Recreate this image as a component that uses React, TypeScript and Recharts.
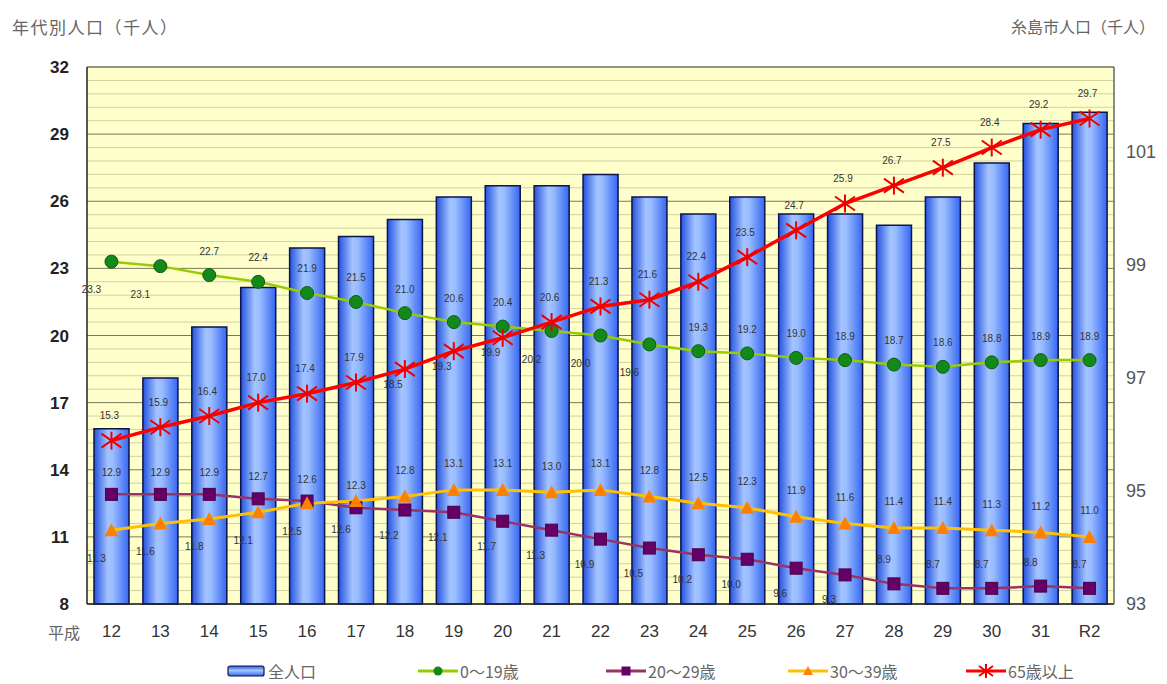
import React from "react";
import {
  ComposedChart, Bar, Line, XAxis, YAxis, CartesianGrid,
  ReferenceLine, LabelList
} from "recharts";

// 平成12年〜令和2年
const years = ["12", "13", "14", "15", "16", "17", "18", "19", "20", "21", "22",
  "23", "24", "25", "26", "27", "28", "29", "30", "31", "R2"];
// 糸島市人口 (千人, right axis)
const totalPop = [96.1, 97.0, 97.9, 98.6, 99.3, 99.5, 99.8, 100.2, 100.4, 100.4, 100.6,
  100.2, 99.9, 100.2, 99.9, 99.9, 99.7, 100.2, 100.8, 101.5, 101.7];
// 年代別人口 (千人, left axis)
const age0to19 = [23.3, 23.1, 22.7, 22.4, 21.9, 21.5, 21.0, 20.6, 20.4, 20.2, 20.0,
  19.6, 19.3, 19.2, 19.0, 18.9, 18.7, 18.6, 18.8, 18.9, 18.9];
const age20to29 = [12.9, 12.9, 12.9, 12.7, 12.6, 12.3, 12.2, 12.1, 11.7, 11.3, 10.9,
  10.5, 10.2, 10.0, 9.6, 9.3, 8.9, 8.7, 8.7, 8.8, 8.7];
const age30to39 = [11.3, 11.6, 11.8, 12.1, 12.5, 12.6, 12.8, 13.1, 13.1, 13.0, 13.1,
  12.8, 12.5, 12.3, 11.9, 11.6, 11.4, 11.4, 11.3, 11.2, 11.0];
const age65plus = [15.3, 15.9, 16.4, 17.0, 17.4, 17.9, 18.5, 19.3, 19.9, 20.6, 21.3,
  21.6, 22.4, 23.5, 24.7, 25.9, 26.7, 27.5, 28.4, 29.2, 29.7];

const leftTicks = [8, 11, 14, 17, 20, 23, 26, 29, 32];
const rightTicks = [93, 95, 97, 99, 101];
// minor gridlines: 5 per major step
const minorTicks = Array.from({ length: 41 }, (_, i) => 8 + i * 0.6).filter((_, i) => i % 5 !== 0);

const data = years.map((year, i) => ({
  year,
  total: totalPop[i],
  a0: age0to19[i],
  a20: age20to29[i],
  a30: age30to39[i],
  a65: age65plus[i],
}));

const LABEL_FONT = "'Liberation Sans Narrow', 'Liberation Sans', Arial, sans-serif";
const JP_FONT = "'Noto Sans CJK JP', sans-serif";

type Place = (i: number) => [number, number];

const makeLabel = (place: Place) => (props: any) => {
  const { x, y, value, index } = props;
  const [dx, dy] = place(index);
  return (
    <text
      key={index}
      x={x + dx}
      y={y + dy}
      textAnchor="middle"
      dominantBaseline="central"
      fontSize={10}
      fill="#333"
      fontFamily={LABEL_FONT}
    >
      {Number(value).toFixed(1)}
    </text>
  );
};

const place0: Place = (i) => ([0, 1, 9, 10, 11].includes(i) ? [-20, 28] : [0, -24]);
const place20: Place = (i) => (i <= 5 ? [0, -22] : i <= 15 ? [-16, 25] : [-10, -24]);
const place30: Place = (i) => (i <= 5 ? [-15, 28] : [0, -26]);
const place65: Place = (i) => ([6, 7, 8].includes(i) ? [-12, 15] : [-2, -25]);

const CircleDot = (p: any) => (
  <circle key={p.index} cx={p.cx} cy={p.cy} r={6.5} fill="#13891a" stroke="#0b5e10" strokeWidth={1} />
);
const SquareDot = (p: any) => (
  <rect key={p.index} x={p.cx - 6} y={p.cy - 6} width={12} height={12} fill="#660066" stroke="#4a0048" strokeWidth={1} />
);
const TriangleDot = (p: any) => (
  <polygon
    key={p.index}
    points={`${p.cx},${p.cy - 7} ${p.cx - 7},${p.cy + 6} ${p.cx + 7},${p.cy + 6}`}
    fill="#ff8000"
  />
);
const StarDot = (p: any) => (
  <g key={p.index} stroke="#ee0000" strokeWidth={2}>
    <line x1={p.cx} y1={p.cy - 9} x2={p.cx} y2={p.cy + 9} />
    <line x1={p.cx - 10} y1={p.cy - 7} x2={p.cx + 10} y2={p.cy + 7} />
    <line x1={p.cx - 10} y1={p.cy + 7} x2={p.cx + 10} y2={p.cy - 7} />
  </g>
);

// minor grid rows, placed through the left axis scale (fallback: linear over the plot box)
const minorRows = ({ yAxis, offset }: any) =>
  minorTicks.map((v) =>
    yAxis && typeof yAxis.scale === "function"
      ? yAxis.scale(v)
      : offset.top + (offset.height * (32 - v)) / 24
  );

const legendItems = [
  { name: "全人口", kind: "bar", color: "#3366ee", width: 192 },
  { name: "0～19歳", kind: "circle", color: "#99cc00", width: 188 },
  { name: "20～29歳", kind: "square", color: "#993366", width: 182 },
  { name: "30～39歳", kind: "triangle", color: "#ffc000", width: 178 },
  { name: "65歳以上", kind: "star", color: "#ff0000", width: 190 },
];

function LegendIcon({ kind, color }: { kind: string; color: string }) {
  return (
    <svg width={40} height={16} style={{ marginRight: 2 }}>
      <defs>
        <linearGradient id="legendGrad" x1="0" y1="0" x2="0" y2="1">
          <stop offset="0%" stopColor="#2a58e4" />
          <stop offset="45%" stopColor="#a6c6ff" />
          <stop offset="100%" stopColor="#3264ee" />
        </linearGradient>
      </defs>
      {kind === "bar" ? (
        <rect x={2} y={3} width={36} height={10} rx={2} fill="url(#legendGrad)" stroke="#0c1448" strokeWidth={1.2} />
      ) : (
        <line x1={0} y1={8} x2={40} y2={8} stroke={color} strokeWidth={3} />
      )}
      {kind === "circle" && <circle cx={20} cy={8} r={4.5} fill="#13891a" />}
      {kind === "square" && <rect x={15.5} y={3.5} width={9} height={9} fill="#660066" />}
      {kind === "triangle" && <polygon points="20,3 15,12 25,12" fill="#ff8000" />}
      {kind === "star" && (
        <g stroke="#ee0000" strokeWidth={2}>
          <line x1={20} y1={1} x2={20} y2={15} />
          <line x1={13} y1={3} x2={27} y2={13} />
          <line x1={13} y1={13} x2={27} y2={3} />
        </g>
      )}
    </svg>
  );
}

function ChartLegend() {
  return (
    <div style={{ position: "absolute", left: 226, top: 660, display: "flex", alignItems: "center" }}>
      {legendItems.map((it) => (
        <div key={it.name} style={{ display: "flex", alignItems: "center", width: it.width }}>
          <LegendIcon kind={it.kind} color={it.color} />
          <span style={{ fontFamily: JP_FONT, fontSize: 16, color: "#666", lineHeight: "22px" }}>{it.name}</span>
        </div>
      ))}
    </div>
  );
}

export default function App() {
  return (
    <div style={{ position: "absolute", left: 0, top: 0, width: 1167, height: 684, background: "#fff" }}>
      <div style={{ position: "absolute", left: 12, top: 14, fontFamily: JP_FONT, fontSize: 17, letterSpacing: 1.5, color: "#666" }}>
        年代別人口（千人）
      </div>
      <div style={{ position: "absolute", right: 12, top: 14, fontFamily: JP_FONT, fontSize: 16, color: "#666" }}>
        糸島市人口（千人）
      </div>
      <div style={{ position: "absolute", left: 48, top: 620, fontFamily: JP_FONT, fontSize: 16, color: "#666" }}>
        平成
      </div>
      <ComposedChart
        width={1167}
        height={684}
        data={data}
        margin={{ top: 67, right: 0, bottom: 40, left: 0 }}
      >
        <defs>
          <linearGradient id="barGrad" x1="0" y1="0" x2="1" y2="0">
            <stop offset="0%" stopColor="#2452e0" />
            <stop offset="40%" stopColor="#a4c4ff" />
            <stop offset="55%" stopColor="#98bcff" />
            <stop offset="100%" stopColor="#3566f2" />
          </linearGradient>
        </defs>
        <CartesianGrid
          yAxisId="left"
          vertical={false}
          fill="#ffffcc"
          stroke="#d2d2a0"
          strokeWidth={1}
          horizontalCoordinatesGenerator={minorRows}
        />
        <CartesianGrid yAxisId="left" vertical={false} stroke="#7a7a5a" strokeWidth={1} />
        <XAxis
          dataKey="year"
          tickLine={false}
          tickSize={0}
          tickMargin={21}
          height={40}
          axisLine={{ stroke: "#222", strokeWidth: 1.5 }}
          tick={{ fontSize: 17, fill: "#333", fontFamily: "'Liberation Sans', Arial, sans-serif" }}
        />
        <YAxis
          yAxisId="left"
          type="number"
          domain={[8, 32]}
          ticks={leftTicks}
          width={87}
          tickLine={false}
          tickSize={0}
          tickMargin={18}
          axisLine={{ stroke: "#222", strokeWidth: 1.5 }}
          tick={{ fontSize: 17, fill: "#222", fontWeight: "bold", fontFamily: "'Liberation Sans', Arial, sans-serif" }}
        />
        <YAxis
          yAxisId="right"
          orientation="right"
          type="number"
          domain={[93, 102.5]}
          ticks={rightTicks}
          width={53}
          tickLine={false}
          tickSize={0}
          tickMargin={12}
          axisLine={{ stroke: "#666", strokeWidth: 1.5 }}
          tick={{ fontSize: 18, fill: "#555", fontFamily: "'Liberation Sans', Arial, sans-serif" }}
        />
        <ReferenceLine yAxisId="left" y={32} stroke="#8a8a7a" strokeWidth={1.5} />
        <Bar
          yAxisId="right"
          dataKey="total"
          name="全人口"
          barSize={35}
          fill="url(#barGrad)"
          stroke="#0c1448"
          strokeWidth={1.5}
          isAnimationActive={false}
        />
        <Line
          yAxisId="left"
          dataKey="a0"
          name="0～19歳"
          stroke="#99cc00"
          strokeWidth={2.5}
          dot={CircleDot}
          activeDot={false}
          isAnimationActive={false}
        >
          <LabelList dataKey="a0" content={makeLabel(place0)} />
        </Line>
        <Line
          yAxisId="left"
          dataKey="a20"
          name="20～29歳"
          stroke="#993366"
          strokeWidth={2.5}
          dot={SquareDot}
          activeDot={false}
          isAnimationActive={false}
        >
          <LabelList dataKey="a20" content={makeLabel(place20)} />
        </Line>
        <Line
          yAxisId="left"
          dataKey="a30"
          name="30～39歳"
          stroke="#ffc000"
          strokeWidth={3}
          dot={TriangleDot}
          activeDot={false}
          isAnimationActive={false}
        >
          <LabelList dataKey="a30" content={makeLabel(place30)} />
        </Line>
        <Line
          yAxisId="left"
          dataKey="a65"
          name="65歳以上"
          stroke="#ff0000"
          strokeWidth={3.5}
          dot={StarDot}
          activeDot={false}
          isAnimationActive={false}
        >
          <LabelList dataKey="a65" content={makeLabel(place65)} />
        </Line>
      </ComposedChart>
      <ChartLegend />
    </div>
  );
}
